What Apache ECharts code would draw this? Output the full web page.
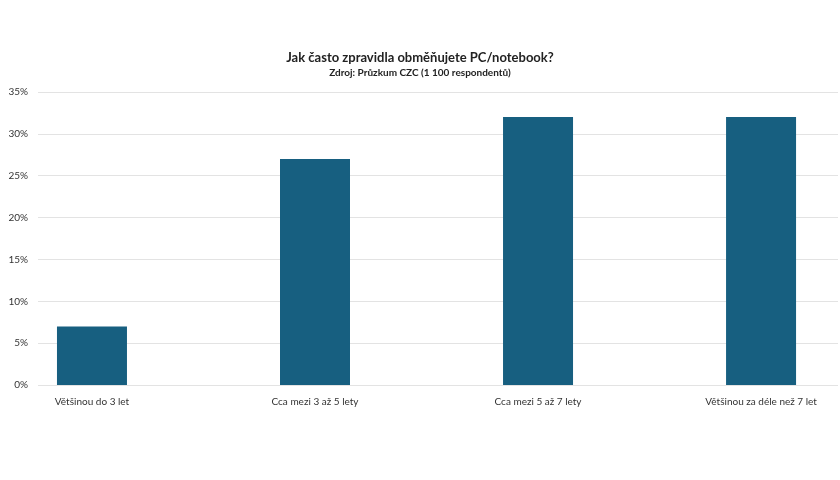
<!DOCTYPE html>
<html><head><meta charset="utf-8">
<script src="https://cdn.jsdelivr.net/npm/echarts@6/dist/echarts.min.js"></script>
<style>html,body{margin:0;background:#fff}#c{width:840px;height:480px}</style>
</head><body><div id="c"></div>
<script>
// survey answers
const categories = ['Většinou do 3 let', 'Cca mezi 3 až 5 lety', 'Cca mezi 5 až 7 lety', 'Většinou za déle než 7 let'];
const shares = [7, 27, 32, 32];

const chart = echarts.init(document.getElementById('c'));
const font = 'Lato, "Open Sans", sans-serif';
chart.setOption({
  animation: false,
  title: {
    text: 'Jak často zpravidla obměňujete PC/notebook?',
    subtext: 'Zdroj: Průzkum CZC (1 100 respondentů)',
    left: 'center', top: 46, itemGap: 4,
    textStyle: { fontFamily: font, fontSize: 13, fontWeight: 'bold', color: '#222' },
    subtextStyle: { fontFamily: font, fontSize: 10, fontWeight: 'bold', color: '#222' }
  },
  grid: { left: 38, right: 2, top: 92, bottom: 95 },
  xAxis: {
    type: 'value', min: -0.242, max: 3.345,
    splitLine: { show: false }, axisLine: { show: false }, axisTick: { show: false },
    axisLabel: {
      fontFamily: font, fontSize: 10, color: '#333', margin: 12,
      customValues: categories.map((c, i) => i),
      formatter: v => categories[Math.round(v)] || ''
    }
  },
  yAxis: {
    type: 'value', min: 0, max: 35, interval: 5,
    axisLabel: { fontFamily: font, fontSize: 10, color: '#333', formatter: '{value}%', margin: 10 },
    splitLine: { lineStyle: { color: '#e3e3e3' } },
    axisLine: { show: false }, axisTick: { show: false }
  },
  series: [{
    type: 'bar', data: shares.map((v, i) => [i, v]),
    barWidth: 70, itemStyle: { color: '#175f80' }
  }]
});
</script></body></html>
